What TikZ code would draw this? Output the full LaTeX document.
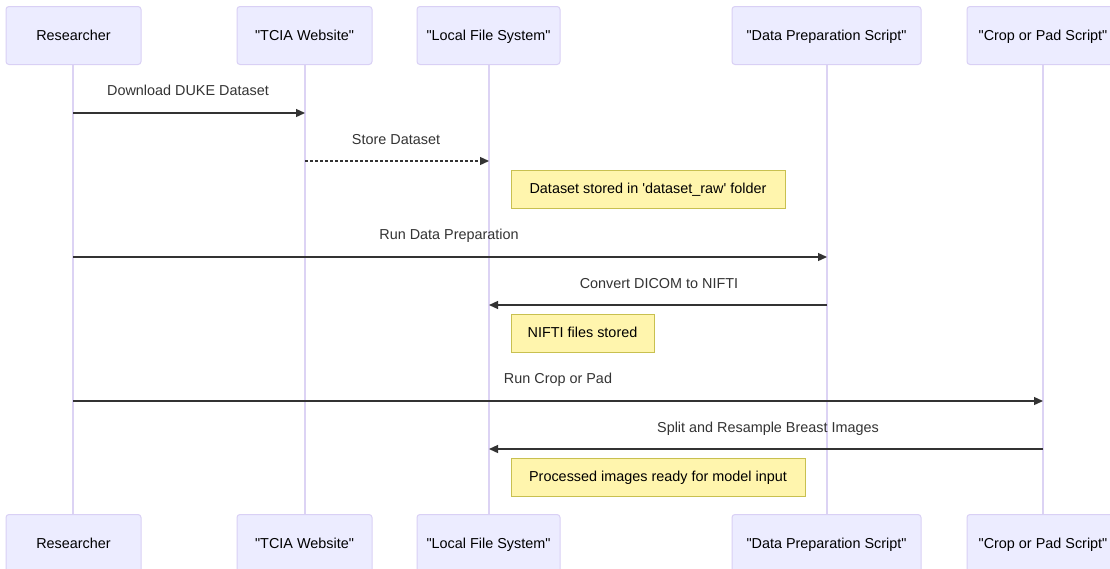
\documentclass[tikz,border=0pt]{standalone}
\usepackage{fontspec}
\setmainfont{Liberation Sans}
\usetikzlibrary{arrows.meta}
\definecolor{actorfill}{HTML}{ECECFF}
\definecolor{actorline}{HTML}{D9D0F5}
\definecolor{lifeline}{HTML}{DCD3F4}
\definecolor{notefill}{HTML}{FFF5AD}
\definecolor{noteline}{HTML}{C8C050}
\definecolor{msgcol}{HTML}{333333}
\newcommand{\dq}[1]{\textquotedbl#1\textquotedbl}
\tikzset{
  txt/.style={font=\fontsize{14.4}{16}\selectfont, text height=10.4pt, text depth=1pt},
  actor/.style={txt, draw=actorline, fill=actorfill, line width=1pt, rounded corners=3pt,
    inner sep=0pt, minimum height=58pt, text=black},
  notebox/.style={txt, draw=noteline, fill=notefill, line width=0.8pt, inner sep=0pt,
    minimum height=38pt, text=black},
  msglabel/.style={txt, text=msgcol, inner sep=0pt},
  life/.style={draw=lifeline, line width=1.4pt},
  msg/.style={draw=msgcol, line width=1.3pt, -{Triangle[length=9pt,width=8pt]}},
  reply/.style={msg, dash pattern=on 2.5pt off 2.5pt},
}
\begin{document}
\begin{tikzpicture}[x=1pt,y=-1pt]
\useasboundingbox (0,0) rectangle (1110,568);
\clip (0,0) rectangle (1110,568);
\fill[white] (0,0) rectangle (1110,568);

% lifelines first, boxes on top
\foreach \x in {73,305,489,827,1043}{
  \draw[life] (\x,64) -- (\x,514);
}

% participants, top row
\node[actor, minimum width=135pt] (rt) at (73.5,35.5) {Researcher};
\node[actor, minimum width=135pt] (tt) at (304.5,35.5) {\dq{TCIA Website}};
\node[actor, minimum width=143pt] (lt) at (488.5,35.5) {\dq{Local File System}};
\node[actor, minimum width=189pt] (dt) at (826.5,35.5) {\dq{Data Preparation Script}};
\node[actor, minimum width=152pt] (ct) at (1043,35.5) {\dq{Crop or Pad Script}};

% participants, bottom row
\node[actor, minimum width=135pt] (rb) at (73.5,543.5) {Researcher};
\node[actor, minimum width=135pt] (tb) at (304.5,543.5) {\dq{TCIA Website}};
\node[actor, minimum width=143pt] (lb) at (488.5,543.5) {\dq{Local File System}};
\node[actor, minimum width=189pt] (db) at (826.5,543.5) {\dq{Data Preparation Script}};
\node[actor, minimum width=152pt] (cb) at (1043,543.5) {\dq{Crop or Pad Script}};

% message anchor points on the lifelines
\coordinate (m1a) at (73,113);  \coordinate (m1b) at (305,113);
\coordinate (m2a) at (305,161); \coordinate (m2b) at (489,161);
\coordinate (m3a) at (73,257);  \coordinate (m3b) at (827,257);
\coordinate (m4a) at (827,305); \coordinate (m4b) at (489,305);
\coordinate (m5a) at (73,401);  \coordinate (m5b) at (1043,401);
\coordinate (m6a) at (1043,449); \coordinate (m6b) at (489,449);

% messages
\draw[msg] (m1a) -- (m1b);
\node[msglabel] (l1) at (188,91) {Download DUKE Dataset};
\draw[reply] (m2a) -- (m2b);
\node[msglabel] (l2) at (396,140) {Store Dataset};
\draw[msg] (m3a) -- (m3b);
\node[msglabel] (l3) at (449,235) {Run Data Preparation};
\draw[msg] (m4a) -- (m4b);
\node[msglabel] (l4) at (659,284) {Convert DICOM to NIFTI};
\draw[msg] (m5a) -- (m5b);
\node[msglabel] (l5) at (558,379) {Run Crop or Pad};
\draw[msg] (m6a) -- (m6b);
\node[msglabel] (l6) at (768,428) {Split and Resample Breast Images};

% notes
\node[notebox, minimum width=274pt] (n1) at (648,189) {Dataset stored in \textquotesingle dataset\_raw\textquotesingle{} folder};
\node[notebox, minimum width=143pt] (n2) at (582.5,333) {NIFTI files stored};
\node[notebox, minimum width=294pt] (n3) at (658,477) {Processed images ready for model input};
\end{tikzpicture}
\end{document}
